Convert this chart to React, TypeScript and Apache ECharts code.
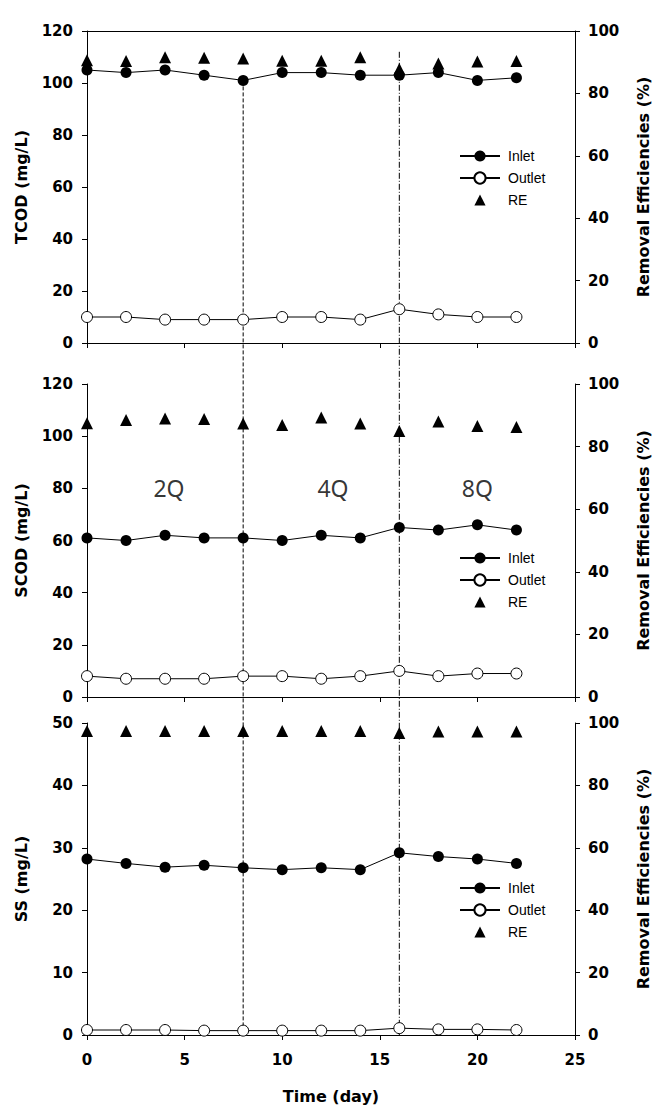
import React, { useEffect, useRef } from 'react';
import * as echarts from 'echarts';

// ---- Data ----
const days = [0, 2, 4, 6, 8, 10, 12, 14, 16, 18, 20, 22];

const tcodInlet = [105, 104, 105, 103, 101, 104, 104, 103, 103, 104, 101, 102];
const tcodOutlet = [10, 10, 9, 9, 9, 10, 10, 9, 13, 11, 10, 10];
const tcodRE = [90.6, 90.4, 91.6, 91.4, 91.2, 90.5, 90.5, 91.6, 87.8, 89.6, 90.2, 90.4];

const scodInlet = [61, 60, 62, 61, 61, 60, 62, 61, 65, 64, 66, 64];
const scodOutlet = [8, 7, 7, 7, 8, 8, 7, 8, 10, 8, 9, 9];
const scodRE = [87.5, 88.5, 89, 88.8, 87.4, 86.9, 89.3, 87.4, 85, 88, 86.6, 86.3];

const ssInlet = [28.2, 27.5, 26.9, 27.2, 26.8, 26.5, 26.8, 26.5, 29.2, 28.6, 28.2, 27.5];
const ssOutlet = [0.8, 0.8, 0.8, 0.7, 0.7, 0.7, 0.7, 0.7, 1.1, 0.9, 0.9, 0.8];
const ssRE = [97.4, 97.4, 97.4, 97.4, 97.4, 97.4, 97.4, 97.4, 96.8, 97.3, 97.3, 97.3];

const yNames = ['TCOD (mg/L)', 'SCOD (mg/L)', 'SS (mg/L)'];
const yMax = [120, 120, 50];
const yInterval = [20, 20, 10];
const reName = 'Removal Efficiencies (%)';
const xName = 'Time (day)';
const legendNames = ['Inlet', 'Outlet', 'RE'];

// phase labels in the SCOD panel (data coordinates)
const phaseLabels = ['2Q', '4Q', '8Q'];
const phaseX = [4.2, 12.6, 20];
const phaseY = 80;

// vertical phase dividers: day, start value on TCOD axis
const dividerDays = [8, 16];
const dividerStart = [101, 112];

const inlets = [tcodInlet, scodInlet, ssInlet];
const outlets = [tcodOutlet, scodOutlet, ssOutlet];
const res = [tcodRE, scodRE, ssRE];

const GRID_TOP = [31, 384, 723];
const GRID_H = [312, 313, 312];
const LEGEND_TOP = [149, 551, 881];

export default function App() {
  const ref = useRef<HTMLDivElement>(null);

  useEffect(() => {
    document.body.style.margin = '0';
    const chart = echarts.init(ref.current!, null, { renderer: 'svg' });

    const tickFont = {
      fontFamily: 'DejaVu Sans',
      fontWeight: 'bold' as const,
      fontSize: 15,
      color: '#000',
    };
    const nameFont = {
      fontFamily: 'DejaVu Sans',
      fontWeight: 'bold' as const,
      fontSize: 16,
      color: '#000',
    };
    const axisLine = { show: true, onZero: false, lineStyle: { color: '#000', width: 1 } };
    const axisTick = { show: true, inside: false, length: 5, lineStyle: { color: '#000', width: 1 } };

    const grid = [0, 1, 2].map((i) => ({
      left: 87,
      right: 85,
      top: GRID_TOP[i],
      height: GRID_H[i],
    }));

    const xAxis: any[] = [0, 1, 2].map((i) => ({
      type: 'value',
      gridIndex: i,
      min: 0,
      max: 25,
      interval: 5,
      axisLine,
      axisTick,
      axisLabel: { show: i === 2, margin: 17, ...tickFont },
      splitLine: { show: false },
      name: i === 2 ? xName : '',
      nameLocation: 'middle',
      nameGap: 53,
      nameTextStyle: nameFont,
    }));
    xAxis.push({
      type: 'value',
      gridIndex: 0,
      position: 'top',
      min: 0,
      max: 25,
      interval: 5,
      axisLine,
      axisTick: { show: false },
      axisLabel: { show: false },
      splitLine: { show: false },
    });

    const yAxis: any[] = [];
    [0, 1, 2].forEach((i) => {
      yAxis.push({
        type: 'value',
        gridIndex: i,
        position: 'left',
        min: 0,
        max: yMax[i],
        interval: yInterval[i],
        axisLine,
        axisTick,
        axisLabel: { margin: 14, ...tickFont },
        splitLine: { show: false },
        name: yNames[i],
        nameLocation: 'middle',
        nameGap: 58,
        nameTextStyle: nameFont,
      });
      yAxis.push({
        type: 'value',
        gridIndex: i,
        position: 'right',
        min: 0,
        max: 100,
        interval: 20,
        axisLine,
        axisTick,
        axisLabel: { margin: 13, ...tickFont },
        splitLine: { show: false },
        name: reName,
        nameLocation: 'middle',
        nameGap: 60,
        nameTextStyle: nameFont,
      });
    });

    const series: any[] = [];
    [0, 1, 2].forEach((i) => {
      series.push({
        name: 'Inlet',
        type: 'line',
        xAxisIndex: i,
        yAxisIndex: 2 * i,
        data: days.map((d, k) => [d, inlets[i][k]]),
        symbol: 'circle',
        symbolSize: 11,
        itemStyle: { color: '#000' },
        lineStyle: { color: '#000', width: 1 },
        z: 3,
      });
      series.push({
        name: 'Outlet',
        type: 'line',
        xAxisIndex: i,
        yAxisIndex: 2 * i,
        data: days.map((d, k) => [d, outlets[i][k]]),
        symbol: 'circle',
        symbolSize: 11,
        itemStyle: { color: '#fff', borderColor: '#000', borderWidth: 1 },
        lineStyle: { color: '#000', width: 1 },
        z: 3,
      });
      series.push({
        name: 'RE',
        type: 'line',
        xAxisIndex: i,
        yAxisIndex: 2 * i + 1,
        data: days.map((d, k) => [d, res[i][k]]),
        symbol: 'triangle',
        symbolSize: 12,
        itemStyle: { color: '#000' },
        lineStyle: { width: 0, opacity: 0 },
        z: 3,
      });
    });

    series.push({
      name: 'phases',
      type: 'scatter',
      xAxisIndex: 1,
      yAxisIndex: 2,
      silent: true,
      symbol: 'circle',
      symbolSize: 1,
      itemStyle: { color: 'rgba(0,0,0,0)' },
      label: {
        show: true,
        position: 'inside',
        fontFamily: 'Noto Sans',
        fontSize: 23,
        color: '#000',
        formatter: (p: any) => phaseLabels[p.dataIndex],
      },
      data: phaseX.map((x) => [x, phaseY]),
    });

    const legend = [0, 1, 2].map((i) => ({
      data: legendNames,
      orient: 'vertical',
      left: 459,
      top: LEGEND_TOP[i],
      itemWidth: 40,
      itemHeight: 14,
      itemGap: 8,
      padding: 0,
      selectedMode: false,
      textStyle: {
        fontFamily: 'Liberation Sans',
        fontSize: 14,
        color: '#000',
        padding: [0, 0, 0, 3],
      },
    }));

    chart.setOption({
      animation: false,
      backgroundColor: '#fff',
      grid,
      xAxis,
      yAxis,
      legend,
      series,
    });

    const lines = dividerDays.map((day, k) => {
      const p1 = chart.convertToPixel({ xAxisIndex: 0, yAxisIndex: 0 } as any, [day, dividerStart[k]]) as number[];
      const p2 = chart.convertToPixel({ xAxisIndex: 2, yAxisIndex: 4 } as any, [day, 0]) as number[];
      return {
        type: 'line',
        z: 1,
        silent: true,
        shape: { x1: p1[0], y1: p1[1], x2: p2[0], y2: p2[1] },
        style: {
          stroke: '#000',
          lineWidth: 1,
          lineDash: k === 0 ? [4, 2] : [6, 2, 1, 2],
        },
      };
    });
    chart.setOption({ graphic: lines });

    return () => chart.dispose();
  }, []);

  return (
    <div
      ref={ref}
      style={{ position: 'absolute', left: 0, top: 0, width: 660, height: 1113 }}
    />
  );
}
